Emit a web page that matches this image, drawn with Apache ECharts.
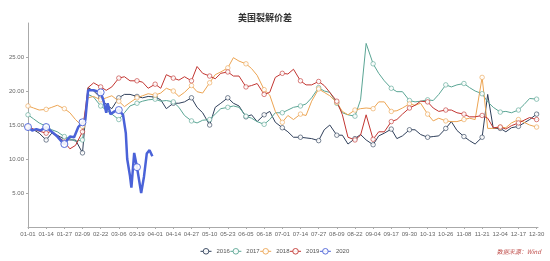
<!DOCTYPE html>
<html>
<head>
<meta charset="utf-8">
<script src="https://cdn.jsdelivr.net/npm/echarts@6/dist/echarts.min.js"></script>
<style>html,body{margin:0;padding:0;background:#fff}#c{width:550px;height:261px}</style>
</head>
<body>
<div id="c"></div>
<script>
// Category labels: every day of the (leap) year, MM-DD
const monthLengths = [31,29,31,30,31,30,31,31,30,31,30,31];
const categories = [];
monthLengths.forEach(function (n, m) {
  for (let d = 1; d <= n; d++) {
    categories.push(String(m + 1).padStart(2, '0') + '-' + String(d).padStart(2, '0'));
  }
});

const seriesNames = ['2016', '2017', '2018', '2019', '2020'];

// day-of-year indices at which values were read (2016-2019)
const days = [0,4,8, 13,17,21, 26,30,34, 39,43,47, 52,56,60, 65,69,73, 78,82,86,
  91,95,99, 104,108,112, 117,121,125, 130,134,138, 143,147,151, 156,160,164,
  169,173,177, 182,186,190, 195,199,203, 208,212,216, 221,225,229, 234,238,242,
  247,251,255, 260,264,268, 273,277,281, 286,290,294, 299,303,307, 312,316,320,
  325,329,333, 338,342,346, 351,355,359, 364,365];

const v2016 = [14.7,14.3,13.8, 12.8,13.8,13.5, 12.9,12.8,12.8, 10.9,20.5,20.0,
  19.0,18.0,17.4, 19.0,19.5,19.5, 19.2,19.0,19.2, 19.1,18.7,17.4, 18.2,18.2,18.4,
  19.0,17.6,16.8, 15.0,17.6,18.2, 19.0,18.2,17.8, 16.2,16.5,15.5, 16.5,17.0,15.4,
  14.6,14.0,13.2, 13.2,13.1,13.0, 12.7,14.3,15.0, 13.5,13.5,12.2, 13.0,13.6,12.8,
  12.1,13.4,13.8, 14.4,13.0,13.4, 14.3,14.3,13.6, 13.2,13.3,13.4, 14.5,15.5,14.2,
  13.3,12.7,12.2, 13.2,19.5,14.5, 14.5,14.0,14.6, 14.8,15.3,15.8, 16.6,16.9];

const v2017 = [16.5,15.9,15.3, 14.8,14.3,14.0, 13.3,13.0,12.6, 12.8,19.5,19.1,
  17.8,17.2,16.6, 15.8,16.8,17.8, 18.2,18.5,18.7, 18.8,18.5,18.6, 18.4,17.6,16.4,
  15.6,15.3,15.7, 15.8,16.6,17.4, 17.6,17.8,17.6, 16.3,16.0,15.5, 15.1,15.8,16.8,
  16.8,17.2,17.6, 17.8,18.1,19.0, 20.5,20.0,19.8, 18.2,16.8,16.5, 16.3,18.7,27.0,
  24.0,22.6,21.5, 20.4,19.9,19.9, 18.6,18.4,18.5, 18.7,18.6,19.5, 20.9,20.6,20.9,
  21.1,20.5,20.0, 19.6,18.4,17.6, 16.9,17.0,16.8, 17.2,18.0,18.9, 18.8,18.9];

const v2018 = [17.8,17.5,17.2, 17.3,17.6,17.9, 17.4,16.8,15.8, 14.8,19.0,19.2,
  18.7,19.0,19.3, 18.5,17.7,18.3, 19.0,19.3,19.6, 19.4,19.7,20.4, 20.0,19.2,19.8,
  20.8,19.9,19.7, 21.2,22.4,22.8, 23.4,24.9,24.4, 24.0,23.3,22.3, 20.2,19.4,17.0,
  15.4,16.4,15.8, 16.6,16.4,18.5, 20.3,19.8,19.3, 18.3,17.0,16.5, 17.2,17.4,17.5,
  17.4,18.4,18.4, 17.0,17.1,17.5, 18.1,17.9,18.2, 16.6,15.6,16.0, 15.6,15.5,15.5,
  15.8,16.0,15.8, 22.0,14.5,14.5, 14.7,14.6,15.3, 15.8,15.4,15.0, 14.7,14.8];

const v2019 = [14.7,14.4,14.1, 13.8,14.1,13.4, 12.5,11.5,12.0, 14.0,20.5,21.2,
  20.6,20.1,20.6, 21.9,22.1,21.5, 21.5,21.3,20.4, 21.0,20.4,22.4, 21.9,21.6,22.1,
  21.5,23.6,22.6, 22.2,21.8,22.6, 22.8,22.2,22.2, 20.6,20.8,21.1, 19.5,19.8,22.0,
  22.6,22.5,23.2, 21.5,20.9,20.9, 21.4,20.8,19.8, 18.5,16.5,13.2, 12.8,13.5,16.5,
  12.9,14.0,14.0, 15.5,15.8,16.6, 17.5,17.9,18.5, 18.4,17.5,17.0, 17.2,17.2,16.8,
  16.6,16.2,16.2, 16.4,16.0,14.6, 14.7,14.4,14.9, 15.3,15.7,16.1, 15.8,15.8];

// 2020 (only until end of March)
const days2020 = [0,3,6,9,13,17,21,24,26,30,33,36,39,41,43,47,52,54,56,57,59,62,65,68,70,71,73,74,76,78,81,83,85,87,89];
const v2020 = [14.7,14.2,14.4,14.2,14.7,14.0,13.3,12.6,12.2,13.3,13.2,14.7,15.4,15.7,20.1,20.1,19.8,18.6,16.8,18.2,
  16.6,17.0,17.2,16.5,13.8,10.0,7.5,5.8,10.9,8.8,5.0,7.4,10.8,11.3,10.4];

const yTicks = [0, 5, 10, 15, 20, 25, 30];

const colors = ['#2f3f5a', '#5aa594', '#eca452', '#c23531', '#4a62d8'];

function pairs(ds, vs) { return ds.map(function (d, i) { return [d, vs[i]]; }); }

const seriesData = [pairs(days, v2016), pairs(days, v2017), pairs(days, v2018), pairs(days, v2019), pairs(days2020, v2020)];

const chart = echarts.init(document.getElementById('c'), null, {renderer: 'canvas'});
chart.setOption({
  animation: false,
  color: colors,
  title: {
    text: '美国裂解价差',
    left: 233, top: 8,
    textStyle: {fontSize: 9, fontWeight: 'bold', color: '#333', fontFamily: 'Noto Sans CJK SC'}
  },
  legend: {
    data: seriesNames.map(function (n, i) {
      return {name: n, itemStyle: {color: '#fff', borderColor: colors[i], borderWidth: 1}, lineStyle: {width: 1}};
    }),
    left: 195, top: 243,
    itemWidth: 11, itemHeight: 7, itemGap: 0,
    textStyle: {fontSize: 6, color: '#555', fontFamily: 'Liberation Sans'}
  },
  graphic: [{
    type: 'text', right: 9, top: 249,
    style: {text: '数据来源：Wind', fill: '#c0504d', font: 'italic 6px "Noto Sans CJK SC"'}
  }],
  grid: {left: 28, right: 12, top: 23, bottom: 34},
  xAxis: {
    type: 'category',
    data: categories,
    boundaryGap: false,
    axisLine: {lineStyle: {color: '#aaa', width: 1}},
    axisTick: {interval: 12, length: 2, lineStyle: {color: '#aaa'}},
    axisLabel: {interval: 12, fontSize: 6, color: '#666', margin: 4, fontFamily: 'Liberation Sans'},
    splitLine: {show: false}
  },
  yAxis: {
    type: 'value',
    min: yTicks[0], max: yTicks[yTicks.length - 1], interval: 5,
    axisLine: {show: true, lineStyle: {color: '#aaa', width: 1}},
    axisTick: {show: true, length: 2, lineStyle: {color: '#aaa'}},
    axisLabel: {
      fontSize: 6, color: '#666', margin: 4, fontFamily: 'Liberation Sans',
      showMinLabel: false, showMaxLabel: false,
      formatter: function (v) { return v.toFixed(2); }
    },
    splitLine: {show: false}
  },
  series: seriesNames.map(function (name, i) {
    const is2020 = i === 4;
    return {
      name: name,
      type: 'line',
      data: seriesData[i],
      symbol: 'circle',
      symbolSize: is2020 ? 7 : 4.5,
      showAllSymbol: 'auto',
      connectNulls: true,
      lineStyle: {width: is2020 ? 2.5 : 1, color: colors[i]},
      itemStyle: {color: '#fff', borderColor: colors[i], borderWidth: is2020 ? 1 : 0.7, opacity: 0.9},
      z: is2020 ? 5 : 2
    };
  })
});
</script>
</body>
</html>
